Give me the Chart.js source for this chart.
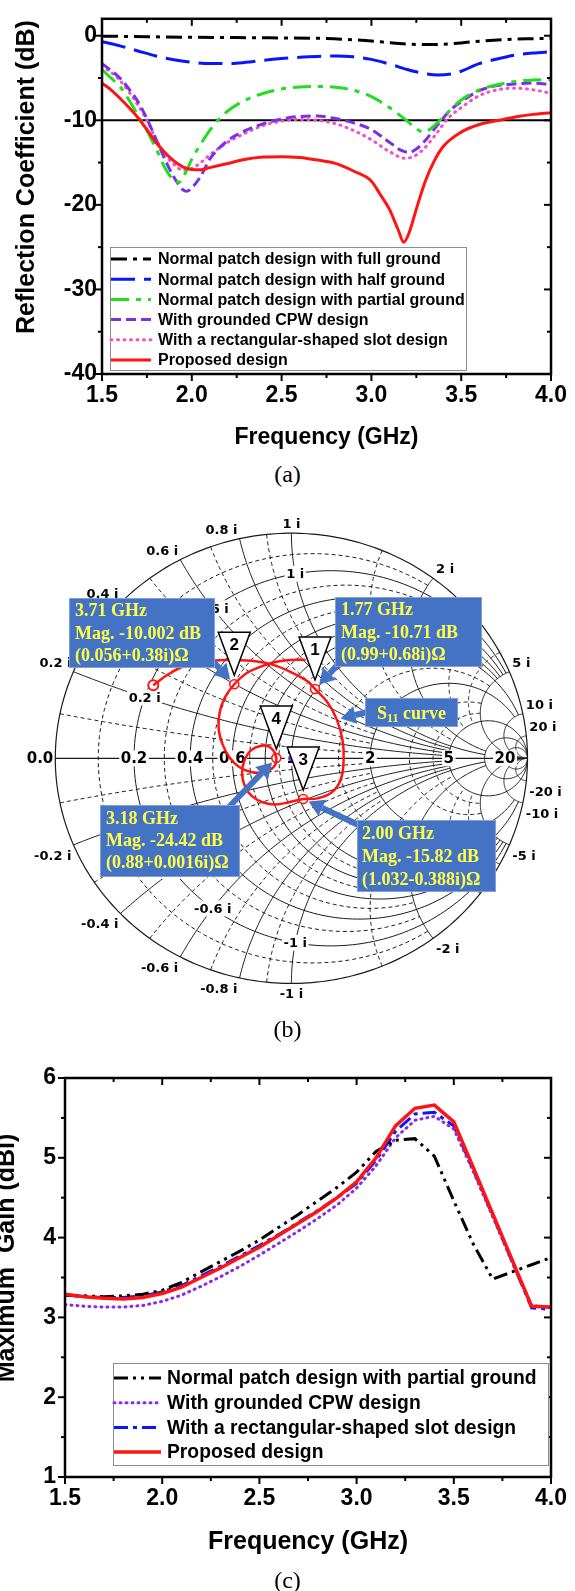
<!DOCTYPE html>
<html>
<head>
<meta charset="utf-8">
<title>Reflection coefficient, impedance locus and gain</title>
<script src="https://cdn.jsdelivr.net/npm/chart.js@4.4.1/dist/chart.umd.min.js"></script>
<style>
  html, body { margin: 0; padding: 0; background: #fff; }
  body { width: 575px; height: 1591px; position: relative; overflow: hidden; }
  canvas { position: absolute; left: 0; }
  .cap { position: absolute; left: 0; width: 575px; text-align: center;
         font-family: "Liberation Serif", "Times New Roman", serif; font-size: 24px; line-height: 28px; color: #000; }
</style>
</head>
<body>
<canvas id="reflChart" width="575" height="455" style="top:0"></canvas>
<canvas id="smithChart" width="575" height="550" style="top:495px"></canvas>
<canvas id="gainChart" width="575" height="520" style="top:1040px"></canvas>
<div class="cap" style="top:460px">(a)</div>
<div class="cap" style="top:1015px">(b)</div>
<div class="cap" style="top:1566px">(c)</div>
<script>
Chart.defaults.font.family = "'Liberation Sans', Arial, Helvetica, sans-serif";
Chart.defaults.color = '#000';

/* ---------------- (a) reflection coefficient, dB ---------------- */
const reflTicksX = [1.5, 2.0, 2.5, 3.0, 3.5, 4.0];
const reflTicksY = [0, -10, -20, -30, -40];

const fullGroundF  = [1.5, 1.75, 2.0, 2.25, 2.5, 2.75, 2.9, 3.0, 3.1, 3.2, 3.3, 3.4, 3.5, 3.6, 3.75, 3.9, 4.0];
const fullGroundDb = [-0.05, -0.12, -0.18, -0.22, -0.27, -0.33, -0.48, -0.62, -0.82, -0.98, -1.05, -1.0, -0.85, -0.65, -0.45, -0.35, -0.3];

const halfGroundF  = [1.5, 1.6, 1.7, 1.8, 1.9, 2.0, 2.1, 2.2, 2.3, 2.4, 2.5, 2.6, 2.7, 2.8, 2.9, 3.0, 3.1, 3.2, 3.3, 3.37, 3.45, 3.5, 3.6, 3.7, 3.8, 3.9, 4.0];
const halfGroundDb = [-0.7, -1.2, -1.8, -2.4, -2.85, -3.15, -3.3, -3.3, -3.15, -2.9, -2.7, -2.55, -2.45, -2.4, -2.5, -2.8, -3.35, -4.0, -4.5, -4.65, -4.5, -4.2, -3.3, -2.75, -2.3, -2.05, -1.9];

const partialGroundF  = [1.5, 1.55, 1.6, 1.65, 1.7, 1.75, 1.8, 1.85, 1.9, 1.93, 1.97, 2.0, 2.05, 2.1, 2.15, 2.2, 2.3, 2.4, 2.5, 2.6, 2.7, 2.8, 2.9, 3.0, 3.1, 3.2, 3.25, 3.29, 3.33, 3.4, 3.5, 3.6, 3.7, 3.8, 3.9, 4.0];
const partialGroundDb = [-4.0, -5.0, -6.0, -7.6, -9.4, -11.2, -13.3, -15.6, -17.1, -17.3, -16.0, -14.6, -12.8, -11.2, -9.9, -8.9, -7.6, -6.8, -6.3, -6.05, -6.0, -6.1, -6.45, -7.2, -8.5, -10.1, -11.0, -11.4, -11.0, -9.6, -7.6, -6.4, -5.8, -5.4, -5.25, -5.2];

const cpwF  = [1.5, 1.55, 1.6, 1.65, 1.7, 1.75, 1.8, 1.85, 1.9, 1.95, 1.97, 2.0, 2.05, 2.1, 2.2, 2.3, 2.4, 2.5, 2.6, 2.7, 2.8, 2.9, 3.0, 3.1, 3.17, 3.21, 3.25, 3.3, 3.37, 3.45, 3.5, 3.6, 3.7, 3.8, 3.9, 4.0];
const cpwDb = [-3.3, -4.1, -5.0, -6.3, -7.8, -9.8, -12.2, -14.6, -16.7, -18.2, -18.4, -18.0, -16.6, -14.6, -12.4, -11.2, -10.4, -9.85, -9.55, -9.5, -9.8, -10.3, -11.1, -12.6, -13.6, -13.8, -13.4, -12.4, -10.5, -8.6, -7.8, -6.5, -5.9, -5.7, -5.6, -5.8];

const slotF  = [1.5, 1.6, 1.7, 1.75, 1.8, 1.85, 1.9, 1.95, 2.0, 2.05, 2.1, 2.2, 2.3, 2.4, 2.5, 2.6, 2.7, 2.8, 2.9, 3.0, 3.1, 3.19, 3.25, 3.3, 3.35, 3.43, 3.5, 3.6, 3.7, 3.8, 3.9, 4.0];
const slotDb = [-3.5, -5.3, -8.2, -10.0, -12.2, -14.0, -15.2, -15.9, -15.7, -15.0, -14.1, -12.6, -11.5, -10.6, -10.1, -9.9, -10.0, -10.4, -11.2, -12.3, -13.7, -14.5, -14.1, -13.2, -11.9, -9.7, -8.5, -7.1, -6.4, -6.2, -6.4, -6.8];

const proposedF  = [1.5, 1.55, 1.6, 1.65, 1.7, 1.75, 1.8, 1.85, 1.9, 1.95, 2.0, 2.05, 2.1, 2.2, 2.3, 2.4, 2.5, 2.6, 2.7, 2.8, 2.9, 3.0, 3.05, 3.1, 3.15, 3.18, 3.21, 3.25, 3.3, 3.35, 3.4, 3.5, 3.6, 3.71, 3.8, 3.9, 4.0];
const proposedDb = [-5.6, -6.4, -7.4, -8.5, -9.7, -11.1, -12.6, -13.8, -14.8, -15.5, -15.82, -15.85, -15.6, -15.1, -14.6, -14.35, -14.3, -14.4, -14.7, -15.1, -16.0, -17.2, -18.8, -20.5, -23.0, -24.42, -23.3, -20.5, -17.2, -14.8, -13.1, -11.4, -10.5, -10.0, -9.6, -9.3, -9.1];

/* ---------------- (b) S11 locus on the Smith chart (reflection-coefficient plane) ---------------- */
const s11Re = [-0.585, -0.523, -0.452, -0.378, -0.275, -0.171, -0.081, 0.002, 0.068, 0.100, 0.151, 0.192, 0.217, 0.221, 0.209, 0.170, 0.110, 0.050, -0.010, -0.068, -0.122, -0.167, -0.196, -0.209, -0.200, -0.171, -0.126, -0.089, -0.064, -0.076, -0.118, -0.171, -0.221, -0.262, -0.291, -0.308, -0.304, -0.283, -0.242, -0.192, -0.130, -0.064, 0.002, 0.060];
const s11Im = [0.325, 0.372, 0.411, 0.429, 0.437, 0.433, 0.416, 0.381, 0.342, 0.308, 0.251, 0.173, 0.078, -0.009, -0.095, -0.152, -0.178, -0.181, -0.195, -0.205, -0.195, -0.168, -0.126, -0.069, -0.013, 0.035, 0.056, 0.048, 0.001, -0.039, -0.061, -0.061, -0.039, 0.004, 0.061, 0.130, 0.203, 0.268, 0.329, 0.377, 0.407, 0.429, 0.437, 0.437];
const markerIndex = [9, 38, 17, 28];            // markers 1..4 along the locus
const markerFreq  = ['1.77 GHz', '3.71 GHz', '2.00 GHz', '3.18 GHz'];
const markerMag   = ['Mag. -10.71 dB', 'Mag. -10.002 dB', 'Mag. -15.82 dB', 'Mag. -24.42 dB'];
const markerZ     = ['(0.99+0.68i)\u03A9', '(0.056+0.38i)\u03A9', '(1.032-0.388i)\u03A9', '(0.88+0.0016i)\u03A9'];

// grid: constant-resistance circles / constant-reactance arcs and how far each one runs
const rMajor = [0.2, 0.4, 0.6, 0.8, 1, 2, 5, 10, 20];
const rMajorTo = [5, 5, 5, 5, 10, 10, Infinity, Infinity, Infinity];
const xMajor = [0.2, 0.4, 0.6, 0.8, 1, 2, 5, 10, 20];
const xMajorTo = [5, 5, 5, 5, 10, 10, Infinity, Infinity, Infinity];
const rMinor = [0.1, 0.3, 0.5, 0.7, 0.9, 1.5, 3, 4];
const rMinorTo = [2, 2, 2, 2, 2, 5, 5, 5];
const xMinor = [0.1, 0.3, 0.5, 0.7, 0.9, 1.5, 3, 4];
const xMinorTo = [2, 2, 2, 2, 2, 5, 5, 5];
const axisLabels = [0.2, 0.4, 0.6, 1, 2, 5, 20];
const rimLabels = [0.2, 0.4, 0.6, 0.8, 1, 2, 5, 10, 20];
const innerLabels = [0.2, 0.4, 0.6, 1];

/* ---------------- (c) maximum gain, dBi ---------------- */
const gainTicksX = [1.5, 2.0, 2.5, 3.0, 3.5, 4.0];
const gainTicksY = [1, 2, 3, 4, 5, 6];
const freqC = [1.5, 1.6, 1.7, 1.8, 1.9, 2.0, 2.1, 2.2, 2.3, 2.4, 2.5, 2.6, 2.7, 2.8, 2.9, 3.0, 3.1, 3.2, 3.3, 3.4, 3.5, 3.6, 3.7, 3.8, 3.9, 4.0];
const gainPartial  = [3.28, 3.27, 3.26, 3.27, 3.29, 3.34, 3.44, 3.57, 3.70, 3.83, 3.97, 4.13, 4.29, 4.46, 4.63, 4.82, 5.08, 5.22, 5.24, 5.02, 4.46, 3.92, 3.48, 3.57, 3.66, 3.75];
const gainCPW      = [3.16, 3.14, 3.13, 3.13, 3.15, 3.20, 3.28, 3.39, 3.51, 3.64, 3.78, 3.93, 4.08, 4.24, 4.41, 4.62, 4.90, 5.25, 5.47, 5.52, 5.36, 4.83, 4.26, 3.69, 3.15, 3.12];
const gainSlot     = [3.28, 3.26, 3.25, 3.25, 3.27, 3.32, 3.40, 3.52, 3.64, 3.77, 3.90, 4.04, 4.19, 4.34, 4.50, 4.68, 4.97, 5.33, 5.55, 5.57, 5.40, 4.85, 4.28, 3.70, 3.12, 3.10];
const gainProposed = [3.29, 3.26, 3.24, 3.23, 3.25, 3.30, 3.38, 3.50, 3.62, 3.75, 3.88, 4.03, 4.18, 4.33, 4.50, 4.70, 5.00, 5.40, 5.62, 5.66, 5.45, 4.88, 4.30, 3.72, 3.14, 3.13];

/* ---------------- shared helpers ---------------- */
const pairs = (xs, ys) => xs.map((x, i) => ({ x, y: ys[i] }));
const BOLD = "'Liberation Sans', Arial, sans-serif";

// boxed plot frame with outward ticks on bottom/left and inward ticks on top/right
const framePlugin = {
  id: 'frame',
  afterDatasetsDraw(chart, args, o) {
    const { ctx, chartArea: a } = chart;
    const sx = chart.scales.x, sy = chart.scales.y;
    ctx.save();
    ctx.strokeStyle = '#000';
    ctx.lineCap = 'butt';
    ctx.setLineDash([]);
    ctx.lineWidth = o.tickWidth;
    const seg = (x1, y1, x2, y2) => { ctx.beginPath(); ctx.moveTo(x1, y1); ctx.lineTo(x2, y2); ctx.stroke(); };
    const isMajor = (v, step, base) => Math.abs((v - base) / step - Math.round((v - base) / step)) < 1e-6;
    for (let v = sx.min; v <= sx.max + 1e-9; v += o.xMinor) {
      const len = isMajor(v, o.xMajor, sx.min) ? o.majorLen : o.minorLen;
      const p = sx.getPixelForValue(v);
      seg(p, a.bottom, p, a.bottom + len);
      seg(p, a.top, p, a.top + len);
    }
    for (let v = o.yStart; v <= sy.max + 1e-9; v += o.yMinor) {
      const len = isMajor(v, o.yMajor, o.yStart) ? o.majorLen : o.minorLen;
      const p = sy.getPixelForValue(v);
      seg(a.left - len, p, a.left, p);
      seg(a.right - len, p, a.right, p);
    }
    ctx.lineWidth = o.lineWidth;
    ctx.strokeRect(a.left, a.top, a.right - a.left, a.bottom - a.top);
    ctx.restore();
  }
};

// horizontal reference level
const refLinePlugin = {
  id: 'refLine',
  beforeDatasetsDraw(chart, args, o) {
    if (o.value === undefined) return;
    const { ctx, chartArea: a } = chart;
    const y = chart.scales.y.getPixelForValue(o.value);
    ctx.save();
    ctx.strokeStyle = '#000';
    ctx.lineWidth = o.width;
    ctx.beginPath(); ctx.moveTo(a.left, y); ctx.lineTo(a.right, y); ctx.stroke();
    ctx.restore();
  }
};

// framed legend inside the plot, samples taken from each dataset's own line style
const boxLegendPlugin = {
  id: 'boxLegend',
  afterDraw(chart, args, o) {
    const ctx = chart.ctx;
    ctx.save();
    ctx.fillStyle = '#fff';
    ctx.fillRect(o.left, o.top, o.width, o.height);
    ctx.strokeStyle = '#8c8c8c';
    ctx.lineWidth = 1;
    ctx.strokeRect(o.left + 0.5, o.top + 0.5, o.width, o.height);
    ctx.font = o.font;
    ctx.textBaseline = 'middle';
    chart.data.datasets.forEach((ds, i) => {
      const y = o.top + o.firstRow + i * o.rowGap;
      ctx.strokeStyle = ds.borderColor;
      ctx.lineWidth = ds.borderWidth;
      ctx.lineCap = ds.borderCapStyle || 'butt';
      ctx.setLineDash(ds.borderDash || []);
      ctx.beginPath(); ctx.moveTo(o.left + o.sampleStart, y); ctx.lineTo(o.left + o.sampleEnd, y); ctx.stroke();
      ctx.setLineDash([]);
      ctx.fillStyle = '#000';
      ctx.fillText(ds.label, o.left + o.textStart, y + 1);
    });
    ctx.restore();
  }
};

// rotated axis title placed freely
const sideTitlePlugin = {
  id: 'sideTitle',
  afterDraw(chart, args, o) {
    if (!o.text) return;
    const ctx = chart.ctx;
    ctx.save();
    ctx.translate(o.x, o.y);
    ctx.rotate(-Math.PI / 2);
    ctx.font = o.font;
    ctx.fillStyle = '#000';
    ctx.textAlign = 'center';
    ctx.textBaseline = 'alphabetic';
    ctx.fillText(o.text, 0, 0);
    ctx.restore();
  }
};

/* ---------------- chart (a) ---------------- */
const reflStyles = [
  { label: 'Normal patch design with full ground',    color: '#000000', width: 3,   dash: [16, 6, 4, 6] },
  { label: 'Normal patch design with half ground',    color: '#0a14ff', width: 3,   dash: [24, 9] },
  { label: 'Normal patch design with partial ground', color: '#22dd22', width: 3,   dash: [18, 7, 5, 7] },
  { label: 'With grounded CPW design',                color: '#7b2fe6', width: 3,   dash: [10, 5] },
  { label: 'With a rectangular-shaped slot design',   color: '#f050c8', width: 3,   dash: [1, 5.5], cap: 'round' },
  { label: 'Proposed design',                         color: '#ff1414', width: 3,   dash: [] }
];
const reflData = [
  pairs(fullGroundF, fullGroundDb), pairs(halfGroundF, halfGroundDb), pairs(partialGroundF, partialGroundDb),
  pairs(cpwF, cpwDb), pairs(slotF, slotDb), pairs(proposedF, proposedDb)
];

new Chart(document.getElementById('reflChart'), {
  type: 'line',
  data: {
    datasets: reflStyles.map((s, i) => ({
      label: s.label, data: reflData[i], borderColor: s.color, backgroundColor: s.color,
      borderWidth: s.width, borderDash: s.dash, borderCapStyle: s.cap || 'butt',
      pointRadius: 0, fill: false, cubicInterpolationMode: 'monotone',
      order: i === reflStyles.length - 1 ? -1 : i
    }))
  },
  options: {
    responsive: false, animation: false, events: [],
    layout: { padding: { top: 12.7, right: 22, left: 0, bottom: 0 } },
    scales: {
      x: {
        type: 'linear', min: 1.5, max: 4.0,
        afterFit: s => { s.height = 81; },
        afterBuildTicks: s => { s.ticks = reflTicksX.map(v => ({ value: v })); },
        ticks: { callback: v => Number(v).toFixed(1), font: { size: 23, weight: 'bold' }, padding: 8, maxRotation: 0, autoSkip: false },
        grid: { display: false, drawTicks: false }, border: { display: false },
        title: { display: true, text: 'Frequency (GHz)', font: { size: 23, weight: 'bold' }, padding: { top: 0, bottom: 4 } }
      },
      y: {
        type: 'linear', min: -40, max: 2,
        afterFit: s => { s.width = 102; },
        afterBuildTicks: s => { s.ticks = reflTicksY.map(v => ({ value: v })); },
        ticks: { font: { size: 23, weight: 'bold' }, padding: 5, autoSkip: false },
        grid: { display: false, drawTicks: false }, border: { display: false },
        title: { display: false }
      }
    },
    plugins: {
      legend: { display: false }, tooltip: { enabled: false },
      frame: { xMajor: 0.5, xMinor: 0.25, yMajor: 10, yMinor: 5, yStart: -40, majorLen: 7, minorLen: 4, lineWidth: 2.5, tickWidth: 2 },
      refLine: { value: -10, width: 2 },
      boxLegend: { left: 110, top: 247, width: 356, height: 123, firstRow: 12, rowGap: 20.2,
                   sampleStart: 1, sampleEnd: 41, textStart: 48, font: 'bold 16px ' + BOLD },
      sideTitle: { text: 'Reflection Coefficient (dB)', x: 34, y: 177, font: 'bold 25px ' + BOLD }
    }
  },
  plugins: [framePlugin, refLinePlugin, boxLegendPlugin, sideTitlePlugin]
});

/* ---------------- chart (b): Smith chart ---------------- */
const SMITH_W = 575, SMITH_H = 550;
const SMITH_CX = 291.5, SMITH_CY = 263, SMITH_RX = 242, SMITH_RY = 231;

function gammaOf(r, x) {
  if (!isFinite(r) || !isFinite(x)) return [1, 0];
  const d = (r + 1) * (r + 1) + x * x;
  return [(r * r + x * x - 1) / d, (2 * x) / d];
}
function resistanceArc(r, xTo, n) {
  const c = r / (1 + r), rho = 1 / (1 + r);
  let t0 = 0;
  if (isFinite(xTo)) { const g = gammaOf(r, xTo); t0 = Math.atan2(g[1], g[0] - c); }
  const t1 = 2 * Math.PI - t0, pts = [];
  for (let i = 0; i <= n; i++) {
    const t = t0 + (t1 - t0) * i / n;
    pts.push([c + rho * Math.cos(t), rho * Math.sin(t)]);
  }
  return pts;
}
function reactanceArc(x, rTo, n) {
  const cy = 1 / x, rho = Math.abs(1 / x);
  const a = gammaOf(0, x), b = gammaOf(rTo, x);
  const t0 = Math.atan2(a[1] - cy, a[0] - 1);
  let d = Math.atan2(b[1] - cy, b[0] - 1) - t0;
  while (d > Math.PI) d -= 2 * Math.PI;
  while (d < -Math.PI) d += 2 * Math.PI;
  const pts = [];
  for (let i = 0; i <= n; i++) {
    const t = t0 + d * i / n;
    pts.push([1 + rho * Math.cos(t), cy + rho * Math.sin(t)]);
  }
  return pts;
}

const smithGridPlugin = {
  id: 'smithGrid',
  beforeDatasetsDraw(chart) {
    const { ctx } = chart;
    const sx = chart.scales.x, sy = chart.scales.y;
    const P = g => [sx.getPixelForValue(g[0]), sy.getPixelForValue(g[1])];
    const stroke = (pts, dash, width) => {
      ctx.setLineDash(dash); ctx.lineWidth = width;
      ctx.beginPath();
      pts.forEach((g, i) => { const p = P(g); i ? ctx.lineTo(p[0], p[1]) : ctx.moveTo(p[0], p[1]); });
      ctx.stroke();
    };
    ctx.save();
    ctx.strokeStyle = '#1a1a1a';
    ctx.lineCap = 'butt';
    // minor (dashed) lines
    rMinor.forEach((r, i) => stroke(resistanceArc(r, rMinorTo[i], 160), [4, 3], 1));
    xMinor.forEach((x, i) => {
      stroke(reactanceArc(x, xMinorTo[i], 120), [4, 3], 1);
      stroke(reactanceArc(-x, xMinorTo[i], 120), [4, 3], 1);
    });
    // major (solid) lines
    rMajor.forEach((r, i) => stroke(resistanceArc(r, rMajorTo[i], 200), [], 1));
    xMajor.forEach((x, i) => {
      stroke(reactanceArc(x, xMajorTo[i], 160), [], 1);
      stroke(reactanceArc(-x, xMajorTo[i], 160), [], 1);
    });
    stroke(resistanceArc(0, Infinity, 360), [], 1.2);
    stroke([[-1, 0], [1, 0]], [], 1.2);
    ctx.setLineDash([]);

    const boxed = (text, p, font) => {
      ctx.font = font;
      const w = ctx.measureText(text).width;
      ctx.fillStyle = '#fff';
      ctx.fillRect(p[0] - w / 2 - 1.5, p[1] - 8, w + 3, 16);
      ctx.fillStyle = '#000';
      ctx.textAlign = 'center'; ctx.textBaseline = 'middle';
      ctx.fillText(text, p[0], p[1] + 1);
    };
    const axisFont = "bold 15px 'DejaVu Sans', Verdana, sans-serif";
    const rimFont = "bold 13px 'DejaVu Sans', Verdana, sans-serif";
    // resistance values along the real axis
    axisLabels.forEach(r => boxed(String(r), P([(r - 1) / (r + 1), 0]), axisFont));
    ctx.font = axisFont; ctx.textAlign = 'right'; ctx.textBaseline = 'middle';
    const left = P([-1, 0]);
    ctx.fillText('0.0', left[0] - 2, left[1] + 1);
    // reactance values around the rim
    ctx.font = rimFont;
    rimLabels.forEach(v => {
      [v, -v].forEach(x => {
        const g = gammaOf(0, x), p = P(g);
        ctx.textAlign = g[0] < -0.05 ? 'right' : (g[0] > 0.05 ? 'left' : 'center');
        const dx = g[0] < -0.05 ? -2 : (g[0] > 0.05 ? 3 : 0);
        if (x > 0) { ctx.textBaseline = 'alphabetic'; ctx.fillText(x + ' i', p[0] + dx, p[1] - 5); }
        else { ctx.textBaseline = 'top'; ctx.fillText(x + ' i', p[0] + dx, p[1] + 5); }
      });
    });
    // reactance values along the r = 0.2 circle
    innerLabels.forEach(v => {
      [v, -v].forEach(x => boxed(x + ' i', P(gammaOf(0.2, x)), rimFont));
    });
    ctx.restore();
  }
};

const NOTE_BLUE = '#4472c4';
const noteBoxes = [
  // marker k -> annotation box (canvas px)
  { marker: 1, x: 69,  y: 103, w: 146, h: 70, tx: 75,  rows: [116, 139, 161], from: [205, 158] },
  { marker: 0, x: 335, y: 102, w: 147, h: 70, tx: 341, rows: [115, 138, 160], from: [347, 160] },
  { marker: 3, x: 100, y: 310, w: 140, h: 72, tx: 106, rows: [324, 346, 368], from: [226, 315] },
  { marker: 2, x: 357, y: 325, w: 139, h: 72, tx: 362, rows: [339, 362, 385], from: [365, 333] }
];
const curveNote = { x: 365, y: 203, w: 93, h: 29, from: [368, 217], target: 11 };

function drawArrow(ctx, x0, y0, x1, y1) {
  const dx = x1 - x0, dy = y1 - y0, L = Math.hypot(dx, dy), ux = dx / L, uy = dy / L;
  const hl = 15, hw = 9, bx = x1 - ux * hl, by = y1 - uy * hl;
  ctx.strokeStyle = NOTE_BLUE; ctx.fillStyle = NOTE_BLUE;
  ctx.lineWidth = 6; ctx.lineCap = 'butt';
  ctx.beginPath(); ctx.moveTo(x0, y0); ctx.lineTo(bx, by); ctx.stroke();
  ctx.beginPath(); ctx.moveTo(x1, y1);
  ctx.lineTo(bx - uy * hw, by + ux * hw); ctx.lineTo(bx + uy * hw, by - ux * hw);
  ctx.closePath(); ctx.fill();
}

const smithNotesPlugin = {
  id: 'smithNotes',
  afterDatasetsDraw(chart) {
    const { ctx } = chart;
    const sx = chart.scales.x, sy = chart.scales.y;
    const pix = i => [sx.getPixelForValue(s11Re[i]), sy.getPixelForValue(s11Im[i])];
    ctx.save();
    // arrows
    const tipTo = (from, p, gap) => {
      const dx = p[0] - from[0], dy = p[1] - from[1], L = Math.hypot(dx, dy);
      return [p[0] - dx / L * gap, p[1] - dy / L * gap];
    };
    noteBoxes.forEach(b => {
      const t = tipTo(b.from, pix(markerIndex[b.marker]), 6);
      drawArrow(ctx, b.from[0], b.from[1], t[0], t[1]);
    });
    const ct = tipTo(curveNote.from, pix(curveNote.target), 4);
    drawArrow(ctx, curveNote.from[0], curveNote.from[1], ct[0], ct[1]);
    // numbered marker flags
    markerIndex.forEach((idx, k) => {
      const p = pix(idx);
      const apexY = p[1] - 9, topY = apexY - 43;
      ctx.beginPath();
      ctx.moveTo(p[0], apexY); ctx.lineTo(p[0] - 16, topY); ctx.lineTo(p[0] + 16, topY); ctx.closePath();
      ctx.fillStyle = '#fff'; ctx.fill();
      ctx.strokeStyle = '#000'; ctx.lineWidth = 1.5; ctx.setLineDash([]); ctx.stroke();
      ctx.fillStyle = '#000';
      ctx.font = 'bold 17px ' + BOLD;
      ctx.textAlign = 'center'; ctx.textBaseline = 'middle';
      ctx.fillText(String(k + 1), p[0], topY + 13);
    });
    // annotation boxes
    const box = (x, y, w, h) => {
      ctx.fillStyle = NOTE_BLUE; ctx.fillRect(x, y, w, h);
      ctx.strokeStyle = '#7f9fd6'; ctx.lineWidth = 1; ctx.strokeRect(x + 0.5, y + 0.5, w - 1, h - 1);
    };
    const serif = "'Liberation Serif', 'Times New Roman', serif";
    noteBoxes.forEach(b => {
      box(b.x, b.y, b.w, b.h);
      ctx.fillStyle = '#ffff4a';
      ctx.font = 'bold 18px ' + serif;
      ctx.textAlign = 'left'; ctx.textBaseline = 'middle';
      const k = b.marker;
      [markerFreq[k], markerMag[k], markerZ[k]].forEach((t, r) => ctx.fillText(t, b.tx, b.rows[r]));
    });
    box(curveNote.x, curveNote.y, curveNote.w, curveNote.h);
    ctx.fillStyle = '#ffff4a';
    ctx.textBaseline = 'alphabetic'; ctx.textAlign = 'left';
    const big = 'bold 18px ' + serif, small = 'bold 12px ' + serif;
    ctx.font = big; const wS = ctx.measureText('S').width, wC = ctx.measureText(' curve').width;
    ctx.font = small; const w11 = ctx.measureText('11').width;
    let tx = curveNote.x + (curveNote.w - wS - w11 - wC) / 2;
    const base = curveNote.y + 21;
    ctx.font = big; ctx.fillText('S', tx, base); tx += wS;
    ctx.font = small; ctx.fillText('11', tx, base + 3); tx += w11;
    ctx.font = big; ctx.fillText(' curve', tx, base);
    ctx.restore();
  }
};

const s11Points = s11Re.map((re, i) => ({ x: re, y: s11Im[i] }));
const markerPoints = markerIndex.map(i => s11Points[i]);

new Chart(document.getElementById('smithChart'), {
  type: 'scatter',
  data: {
    datasets: [
      { label: 'S11', data: s11Points, showLine: true, borderColor: '#ff1414', borderWidth: 2.5,
        pointRadius: 0, tension: 0.4, fill: false },
      { label: 'start', data: [s11Points[0]], pointRadius: 5, pointBorderWidth: 2,
        pointBorderColor: '#ff1414', pointBackgroundColor: '#fff' },
      { label: 'markers', data: markerPoints, pointRadius: 4.5, pointBorderWidth: 1.6,
        pointBorderColor: '#ff1414', pointBackgroundColor: '#fff' },
      { label: 'marker dots', data: markerPoints, pointRadius: 1.4, pointBorderWidth: 0,
        pointBackgroundColor: '#ff1414', pointBorderColor: '#ff1414' },
      { label: 'match', data: [{ x: 0, y: 0 }], pointRadius: 3.2, pointBorderWidth: 0,
        pointBackgroundColor: '#7b2fe6', pointBorderColor: '#7b2fe6' }
    ]
  },
  options: {
    responsive: false, animation: false, events: [],
    layout: { padding: 0 },
    scales: {
      x: { type: 'linear', display: false, min: -SMITH_CX / SMITH_RX, max: (SMITH_W - SMITH_CX) / SMITH_RX },
      y: { type: 'linear', display: false, min: -(SMITH_H - SMITH_CY) / SMITH_RY, max: SMITH_CY / SMITH_RY }
    },
    plugins: { legend: { display: false }, tooltip: { enabled: false } }
  },
  plugins: [smithGridPlugin, smithNotesPlugin]
});

/* ---------------- chart (c) ---------------- */
const gainStyles = [
  { label: 'Normal patch design with partial ground', color: '#000000', width: 3,   dash: [14, 5, 3, 5, 3, 5] },
  { label: 'With grounded CPW design',                color: '#8a2be2', width: 3,   dash: [1, 5], cap: 'round' },
  { label: 'With a rectangular-shaped slot design',   color: '#0a14ff', width: 3,   dash: [14, 5, 4, 5] },
  { label: 'Proposed design',                         color: '#ff1414', width: 3.5, dash: [] }
];
const gainData = [gainPartial, gainCPW, gainSlot, gainProposed];

new Chart(document.getElementById('gainChart'), {
  type: 'line',
  data: {
    datasets: gainStyles.map((s, i) => ({
      label: s.label, data: pairs(freqC, gainData[i]), borderColor: s.color, backgroundColor: s.color,
      borderWidth: s.width, borderDash: s.dash, borderCapStyle: s.cap || 'butt',
      pointRadius: 0, fill: false, tension: 0,
      order: i === gainStyles.length - 1 ? -1 : i
    }))
  },
  options: {
    responsive: false, animation: false, events: [],
    layout: { padding: { top: 38, right: 16, left: 0, bottom: 0 } },
    scales: {
      x: {
        type: 'linear', min: 1.5, max: 4.0,
        afterFit: s => { s.height = 83; },
        afterBuildTicks: s => { s.ticks = gainTicksX.map(v => ({ value: v })); },
        ticks: { callback: v => Number(v).toFixed(1), font: { size: 23, weight: 'bold' }, padding: 8, maxRotation: 0, autoSkip: false },
        grid: { display: false, drawTicks: false }, border: { display: false },
        title: { display: true, text: 'Frequency (GHz)', font: { size: 25, weight: 'bold' }, padding: { top: 0, bottom: 3 } }
      },
      y: {
        type: 'linear', min: 1, max: 6,
        afterFit: s => { s.width = 65; },
        afterBuildTicks: s => { s.ticks = gainTicksY.map(v => ({ value: v })); },
        ticks: { font: { size: 23, weight: 'bold' }, padding: 9, autoSkip: false },
        grid: { display: false, drawTicks: false }, border: { display: false },
        title: { display: false }
      }
    },
    plugins: {
      legend: { display: false }, tooltip: { enabled: false },
      frame: { xMajor: 0.5, xMinor: 0.25, yMajor: 1, yMinor: 0.5, yStart: 1, majorLen: 7, minorLen: 4, lineWidth: 2.5, tickWidth: 2 },
      boxLegend: { left: 113, top: 323, width: 435, height: 102, firstRow: 15, rowGap: 24.7,
                   sampleStart: 1, sampleEnd: 48, textStart: 54, font: 'bold 19.3px ' + BOLD },
      sideTitle: { text: 'Maximum  Gain (dBi)', x: 14, y: 218, font: 'bold 25px ' + BOLD }
    }
  },
  plugins: [framePlugin, boxLegendPlugin, sideTitlePlugin]
});
</script>
</body>
</html>
